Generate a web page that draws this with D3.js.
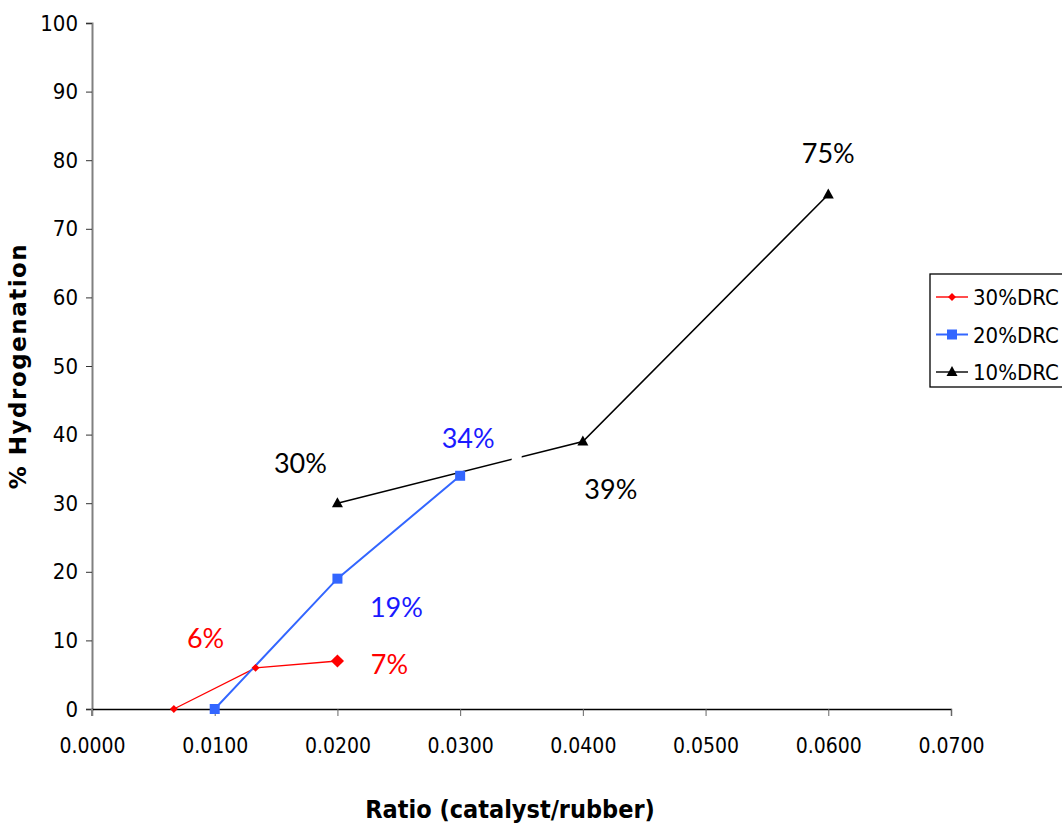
<!DOCTYPE html>
<html>
<head>
<meta charset="utf-8">
<script src="https://cdn.jsdelivr.net/npm/d3@7"></script>
<style>
  body { margin: 0; background: #fff; }
  svg { display: block; }
</style>
</head>
<body>
<div id="chart"></div>
<script>
// series data
const drc30X = [0.00667, 0.01333, 0.0200];
const drc30Y = [0, 6, 7];
const drc20X = [0.0100, 0.0200, 0.0300];
const drc20Y = [0, 19, 34];
const drc10X = [0.0200, 0.0400, 0.0600];
const drc10Y = [30, 39, 75];

const xTicks = [0, 0.01, 0.02, 0.03, 0.04, 0.05, 0.06, 0.07];
const yTicks = [0, 10, 20, 30, 40, 50, 60, 70, 80, 90, 100];

const seriesNames = ["30%DRC", "20%DRC", "10%DRC"];

// data labels: [x, y, text]
const labels30 = [[0.01333, 6, "6%"], [0.0200, 7, "7%"]];
const labels20 = [[0.0200, 19, "19%"], [0.0300, 34, "34%"]];
const labels10 = [[0.0200, 30, "30%"], [0.0400, 39, "39%"], [0.0600, 75, "75%"]];

const width = 1062, height = 826;
const margin = {top: 23, right: 111, bottom: 117, left: 92};

const svg = d3.select("#chart").append("svg")
    .attr("width", width).attr("height", height);

const x = d3.scaleLinear().domain([0, 0.07]).range([margin.left, width - margin.right]);
const y = d3.scaleLinear().domain([0, 100]).range([height - margin.bottom, margin.top]);

const tickFont = "'Liberation Sans Narrow', 'DejaVu Sans Condensed', sans-serif";

//Y axis
const yAxis = svg.append("g")
    .attr("transform", "translate(" + margin.left + ",0)")
    .call(d3.axisLeft(y).tickValues(yTicks).tickSize(6).tickPadding(8).tickFormat(d3.format("d")));
yAxis.select(".domain").attr("stroke", "#808080").attr("stroke-width", 2);
yAxis.selectAll(".tick line").attr("stroke", "#333");
yAxis.selectAll("text").attr("font-family", tickFont).attr("font-size", "22px").attr("fill", "#000");

//X axis
const xAxis = svg.append("g")
    .attr("transform", "translate(0," + y(0) + ")")
    .call(d3.axisBottom(x).tickValues(xTicks).tickSize(7).tickPadding(22).tickFormat(d3.format(".4f")));
xAxis.select(".domain").attr("stroke", "#000").attr("stroke-width", 1.3);
xAxis.selectAll(".tick line").attr("stroke", "#666");
xAxis.selectAll("text").attr("font-family", tickFont).attr("font-size", "21px").attr("fill", "#000");
// y axis runs down through the first x tick
svg.append("line").attr("x1", x(0)).attr("x2", x(0)).attr("y1", y(0)).attr("y2", y(0) + 7)
    .attr("stroke", "#808080").attr("stroke-width", 2);

//Axis titles
svg.append("text")
    .attr("transform", "translate(26," + ((y(0) + y(100)) / 2) + ") rotate(-90)")
    .attr("text-anchor", "middle")
    .attr("font-family", "'DejaVu Sans', sans-serif")
    .attr("font-weight", "bold").attr("font-size", "23px")
    .attr("letter-spacing", "1.5px")
    .text("% Hydrogenation");

svg.append("text")
    .attr("x", 510).attr("y", 818)
    .attr("text-anchor", "middle")
    .attr("font-family", tickFont)
    .attr("font-weight", "bold").attr("font-size", "25px")
    .text("Ratio (catalyst/rubber)");

const line = d3.line().x(d => x(d[0])).y(d => y(d[1]));
const zip = (xs, ys) => xs.map((v, i) => [v, ys[i]]);

const d30 = zip(drc30X, drc30Y), d20 = zip(drc20X, drc20Y), d10 = zip(drc10X, drc10Y);

//Lines
svg.append("path").datum(d10).attr("d", line).attr("fill", "none").attr("stroke", "#000").attr("stroke-width", 1.6);
// hidden data label box cuts the black line
svg.append("rect").attr("x", x(0.0342)).attr("y", y(37.3)).attr("width", 10).attr("height", 14).attr("fill", "#fff");
svg.append("path").datum(d30).attr("d", line).attr("fill", "none").attr("stroke", "#ff0000").attr("stroke-width", 1.3);
svg.append("path").datum(d20).attr("d", line).attr("fill", "none").attr("stroke", "#3366ff").attr("stroke-width", 2);

//Markers
const diamond = d3.symbol().type(d3.symbolDiamond2);
svg.selectAll(".m30").data(d30).enter().append("path")
    .attr("transform", d => "translate(" + x(d[0]) + "," + y(d[1]) + ")")
    .attr("d", (d, i) => diamond.size(i === 2 ? 110 : 40)())
    .attr("fill", "#ff0000");

svg.selectAll(".m20").data(d20).enter().append("rect")
    .attr("x", d => x(d[0]) - 5).attr("y", d => y(d[1]) - 5)
    .attr("width", 10).attr("height", 10)
    .attr("fill", "#3366ff");

svg.selectAll(".m10").data(d10).enter().append("path")
    .attr("transform", d => "translate(" + x(d[0]) + "," + y(d[1]) + ")")
    .attr("d", "M0,-6L5.5,4L-5.5,4Z")
    .attr("fill", "#000");

//Data labels
const labelFont = "Lato, sans-serif";
function addLabels(data, color, offsets) {
    svg.selectAll(null).data(data).enter().append("text")
        .attr("x", (d, i) => x(d[0]) + offsets[i][0])
        .attr("y", (d, i) => y(d[1]) + offsets[i][1])
        .attr("text-anchor", "middle")
        .attr("font-family", labelFont).attr("font-size", "27px")
        .attr("fill", color)
        .text(d => d[2]);
}
addLabels(labels30, "#ff0000", [[-50, -20], [52, 13]]);
addLabels(labels20, "#1a1aff", [[59, 38], [8, -28]]);
addLabels(labels10, "#000", [[-37, -30], [28, 58], [0, -32]]);

//Legend
const legend = svg.append("g").attr("transform", "translate(930,274)");
legend.append("rect").attr("x", 0).attr("y", 0).attr("width", 140).attr("height", 113)
    .attr("fill", "#fff").attr("stroke", "#000").attr("stroke-width", 1.3);
const legColors = ["#ff0000", "#3366ff", "#000"];
seriesNames.forEach((name, i) => {
    const cy = 23 + i * 37.5;
    legend.append("line").attr("x1", 6).attr("x2", 38).attr("y1", cy).attr("y2", cy)
        .attr("stroke", legColors[i]).attr("stroke-width", i === 1 ? 2 : 1.4);
    if (i === 0) {
        legend.append("path").attr("transform", "translate(22," + cy + ")")
            .attr("d", diamond.size(40)()).attr("fill", legColors[i]);
    } else if (i === 1) {
        legend.append("rect").attr("x", 17).attr("y", cy - 5).attr("width", 10).attr("height", 10).attr("fill", legColors[i]);
    } else {
        legend.append("path").attr("transform", "translate(22," + cy + ")")
            .attr("d", "M0,-6L5.5,4L-5.5,4Z").attr("fill", legColors[i]);
    }
    legend.append("text").attr("x", 43).attr("y", cy + 8)
        .attr("font-family", tickFont).attr("font-size", "22px")
        .text(name);
});
</script>
</body>
</html>
